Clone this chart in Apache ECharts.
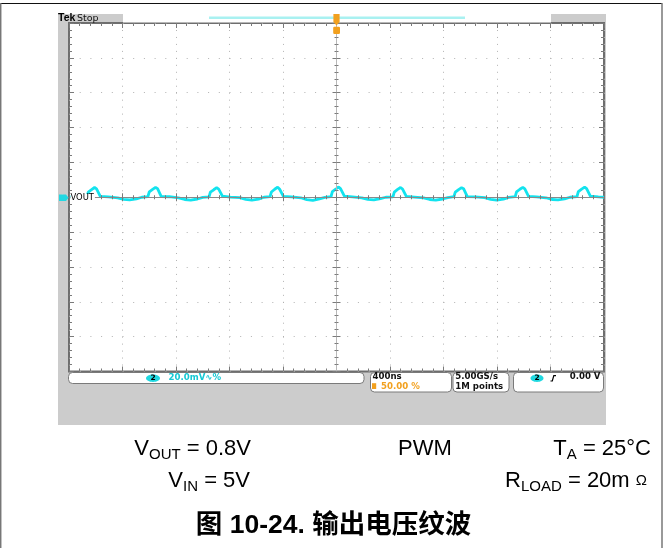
<!DOCTYPE html>
<html><head><meta charset="utf-8">
<script src="https://cdn.jsdelivr.net/npm/echarts@6.0.0/dist/echarts.min.js"></script>
<style>html,body{margin:0;padding:0;background:#fff}#c{width:668px;height:548px}</style>
</head><body><div id="c"></div>
<script>
// ---- data (time in ns, voltage in mV, AC ripple of VOUT) ----
const timeNs = [-2000, -1940, -1900,
  -1866, -1856, -1831, -1809, -1794, -1766, -1706, -1636, -1591, -1546, -1496, -1456,
  -1410, -1400, -1375, -1353, -1338, -1310, -1250, -1180, -1135, -1090, -1040, -1000,
  -953, -943, -918, -896, -881, -853, -793, -723, -678, -633, -583, -543,
  -497, -487, -462, -440, -425, -397, -337, -267, -222, -177, -127, -87,
  -41, -31, -6, 16, 31, 59, 119, 189, 234, 279, 329, 369,
  422, 432, 457, 479, 494, 522, 582, 652, 697, 742, 792, 832,
  878, 888, 913, 935, 950, 978, 1038, 1108, 1153, 1198, 1248, 1288,
  1336, 1346, 1371, 1393, 1408, 1436, 1496, 1566, 1611, 1656, 1706, 1746,
  1798, 1808, 1833, 1855, 1870, 1898, 1958, 2000];
const voutMv = [0.2, 0.0, 0.3,
  0.3, 3.0, 4.4, 5.6, 4.8, 0.5, 0.2, -0.3, -1.2, -1.5, -0.9, 0.0,
  0.3, 3.1, 4.5, 5.7, 4.9, 0.4, 0.3, -0.4, -1.3, -1.6, -1.0, -0.1,
  0.2, 2.9, 4.3, 5.5, 4.7, 0.6, 0.1, -0.2, -1.2, -1.7, -1.1, 0.0,
  0.3, 3.0, 4.6, 5.8, 4.6, 0.5, 0.2, -0.3, -1.4, -1.8, -0.9, -0.1,
  0.3, 3.2, 4.6, 5.9, 4.8, 0.6, 0.2, -0.3, -1.2, -1.5, -0.8, 0.0,
  0.2, 3.0, 4.5, 5.6, 4.7, 0.5, 0.1, -0.4, -1.3, -1.6, -1.0, -0.2,
  0.3, 2.9, 4.4, 5.5, 4.9, 0.4, 0.2, -0.2, -1.2, -1.7, -1.1, -0.1,
  0.3, 3.1, 4.6, 5.7, 4.8, 0.5, 0.2, -0.3, -1.3, -1.5, -0.9, 0.0,
  0.3, 3.2, 4.7, 5.8, 4.9, 0.6, 0.2, 0.0];

// ---- axis ranges (10 divisions each) ----
const xRange = [-2000, 2000];   // ns, 400 ns/div
const xDiv = 400;
const yRange = [-100, 100];     // mV, 20 mV/div
const yDiv = 20;

// ---- scope readouts / text ----
const readVertical = '20.0mV\u223F%';
const readHoriz = ['400ns', '50.00 %'];
const readAcq = ['5.00GS/s', '1M points'];
const readTrig = '0.00 V';
const channelLabel = 'VOUT';
const condLeft = ['V', 'OUT', ' = 0.8V'];
const condLeft2 = ['V', 'IN', ' = 5V'];
const condMid = 'PWM';
const condRight = ['T', 'A', ' = 25\u00B0C'];
const condRight2 = ['R', 'LOAD', ' = 20m ', '\u03A9'];
const caption = '\u56FE 10-24. \u8F93\u51FA\u7535\u538B\u7EB9\u6CE2';

const pts = timeNs.map((t, i) => [t, voutMv[i]]);

const chart = echarts.init(document.getElementById('c'), null, {renderer: 'canvas'});

const GL = 69, GT = 23, GW = 535, GH = 348.5;
const tickCol = '#7a7a7a';

function edgeX(pos, split) {
  return {type: 'value', gridIndex: 0, position: pos, min: xRange[0], max: xRange[1], interval: xDiv,
    axisLine: {show: false, onZero: false},
    axisTick: {show: true, inside: true, length: 5, lineStyle: {color: tickCol}},
    minorTick: {show: true, splitNumber: 5, length: 3, lineStyle: {color: tickCol}},
    axisLabel: {show: false},
    splitLine: {show: split, lineStyle: {color: '#b2b2b2', width: 1, type: [1, 5.97]}}};
}
function edgeY(pos, split) {
  return {type: 'value', gridIndex: 0, position: pos, min: yRange[0], max: yRange[1], interval: yDiv,
    axisLine: {show: false, onZero: false},
    axisTick: {show: true, inside: true, length: 5, lineStyle: {color: tickCol}},
    minorTick: {show: true, splitNumber: 5, length: 3, lineStyle: {color: tickCol}},
    axisLabel: {show: false},
    splitLine: {show: split, lineStyle: {color: '#b2b2b2', width: 1, type: [1, 9.7]}}};
}
function centerX(pos, line) {
  return {type: 'value', gridIndex: 1, position: pos, min: xRange[0], max: xRange[1], interval: xDiv, z: 5,
    axisLine: {show: line, onZero: true, lineStyle: {color: '#8a8a8a', width: 1}},
    axisTick: {show: true, inside: true, length: 4, lineStyle: {color: tickCol}},
    minorTick: {show: true, splitNumber: 5, length: 2, lineStyle: {color: tickCol}},
    axisLabel: {show: false}, splitLine: {show: false}};
}
function centerY(pos, line) {
  return {type: 'value', gridIndex: 1, position: pos, min: yRange[0], max: yRange[1], interval: yDiv, z: 5,
    axisLine: {show: line, onZero: true, lineStyle: {color: '#b8b8b8', width: 1}},
    axisTick: {show: true, inside: true, length: 4, lineStyle: {color: tickCol}},
    minorTick: {show: true, splitNumber: 5, length: 2, lineStyle: {color: tickCol}},
    axisLabel: {show: false}, splitLine: {show: false}};
}

const sans = 'DejaVu Sans';
const arial = 'Liberation Sans, Arial, sans-serif';
const orange = '#f2a01e';
const cyanTxt = '#14c8d4';

function box(x, y, w, h) {
  return {type: 'rect', z: 50, shape: {x: x, y: y, width: w, height: h, r: 4},
    style: {fill: '#fff', stroke: '#7a7a7a', lineWidth: 1}};
}
function txt(x, y, s, opt) {
  return Object.assign({type: 'text', z: 60, x: x, y: y,
    style: Object.assign({text: s, fontFamily: sans, fontSize: 8.6, fill: '#111', align: 'left', verticalAlign: 'middle'}, opt || {})});
}
function subText(x, y, parts, align, omega) {
  let t = '{m|' + parts[0] + '}{s|' + parts[1] + '}{m|' + parts[2] + '}';
  if (omega) t += '{o|' + parts[3] + '}';
  return {type: 'text', z: 60, x: x, y: y, style: {text: t, align: align, verticalAlign: 'middle',
    rich: {m: {fontFamily: arial, fontSize: 22, lineHeight: 30, fill: '#000'},
           s: {fontFamily: arial, fontSize: 15, lineHeight: 18, padding: [12, 0, 0, 0], fill: '#000'},
           o: {fontFamily: arial, fontSize: 15, lineHeight: 30, fill: '#000'}}}};
}

const graphics = [
  // page frame
  {type: 'line', z: 1, shape: {x1: 0, y1: 3.5, x2: 662, y2: 3.5}, style: {stroke: '#111', lineWidth: 1.2}},
  {type: 'line', z: 1, shape: {x1: 0.7, y1: 3, x2: 0.7, y2: 548}, style: {stroke: '#777', lineWidth: 1.5}},
  {type: 'line', z: 1, shape: {x1: 662, y1: 3, x2: 662, y2: 548}, style: {stroke: '#777', lineWidth: 1.5}},
  // scope panel
  {type: 'rect', z: -10, shape: {x: 58, y: 14, width: 548, height: 411}, style: {fill: '#cccccc'}},
  {type: 'rect', z: 1, shape: {x: 123, y: 14, width: 428, height: 8.5}, style: {fill: '#ffffff'}},
  {type: 'rect', z: 2, shape: {x: 209, y: 16.5, width: 256, height: 2.4}, style: {fill: '#a9f1f1'}},
  txt(58, 18.3, 'Tek', {fontFamily: 'Liberation Sans', fontWeight: 'bold', fontSize: 10.5, fill: '#000'}),
  txt(77, 18.3, 'Stop', {fontSize: 9.5, fill: '#111'}),
  // trigger markers
  {type: 'polygon', z: 70, shape: {points: [[333.4, 14], [339.6, 14], [339.6, 22], [336.5, 25.5], [333.4, 22]]}, style: {fill: orange}},
  txt(336.5, 18.5, 'T', {fontSize: 7, fontWeight: 'bold', fill: '#fff', align: 'center'}),
  {type: 'rect', z: 70, shape: {x: 333.2, y: 26.8, width: 6.8, height: 7.2, r: 1.2}, style: {fill: orange}},
  txt(336.6, 30.6, 'T', {fontSize: 7, fontWeight: 'bold', fill: '#fff', align: 'center'}),
  // channel ground marker + label
  {type: 'polygon', z: 70, shape: {points: [[59, 194.5], [66, 194.5], [68.5, 197.8], [66, 201], [59, 201]]}, style: {fill: '#22d8e2'}},
  txt(62.5, 198, '2', {fontSize: 7, fontWeight: 'bold', fill: '#fff', align: 'center'}),
  txt(70.5, 198, channelLabel, {fontSize: 8.4, fill: '#000', backgroundColor: '#fff', padding: [0, 1, 0, 0]}),
  // readout boxes
  box(68.5, 372.5, 295.5, 11),
  box(370.5, 372.5, 81, 19.5),
  box(453, 372.5, 56, 19.5),
  box(513.5, 372.5, 90, 19.5),
  {type: 'ellipse', z: 60, shape: {cx: 153, cy: 378.2, rx: 7, ry: 3.7}, style: {fill: '#1fd8e0'}},
  txt(153, 378.4, '2', {fontSize: 7.5, fontWeight: 'bold', fill: '#000', align: 'center'}),
  txt(168.5, 378.2, readVertical, {fill: cyanTxt, fontWeight: 'bold'}),
  txt(372.5, 377, readHoriz[0], {fontWeight: 'bold'}),
  {type: 'rect', z: 60, shape: {x: 372, y: 383.2, width: 4.2, height: 5.8}, style: {fill: orange}},
  txt(381, 386.8, readHoriz[1], {fill: orange, fontWeight: 'bold'}),
  txt(455.3, 377, readAcq[0], {fontWeight: 'bold'}),
  txt(455.3, 386.8, readAcq[1], {fontWeight: 'bold'}),
  {type: 'ellipse', z: 60, shape: {cx: 537, cy: 378.2, rx: 6.5, ry: 3.7}, style: {fill: '#1fd8e0'}},
  txt(537, 378.4, '2', {fontSize: 7.5, fontWeight: 'bold', fill: '#000', align: 'center'}),
  {type: 'polyline', z: 60, shape: {points: [[550.5, 381], [552.3, 381], [553.8, 375.6], [556, 375.6]]}, style: {stroke: '#000', lineWidth: 1.2, fill: null}},
  txt(600.5, 377, readTrig, {align: 'right', fontWeight: 'bold'}),
  // conditions
  subText(251, 449, condLeft, 'right'),
  subText(250, 481, condLeft2, 'right'),
  txt(425, 449, condMid, {fontFamily: arial, fontSize: 22, fill: '#000', align: 'center'}),
  subText(651, 449, condRight, 'right'),
  subText(647, 481, condRight2, 'right', true),
  txt(333.5, 525.5, caption, {fontFamily: 'Liberation Sans, Noto Sans CJK SC, sans-serif', fontWeight: 'bold', fontSize: 26.5, fill: '#000', align: 'center'})
];

const option = {
  animation: false,
  backgroundColor: '#fff',
  grid: [
    {left: GL, top: GT, width: GW, height: GH, show: true, backgroundColor: '#ffffff', borderColor: '#6e6e6e', borderWidth: 2},
    {left: GL, top: GT, width: GW, height: GH, show: false}
  ],
  xAxis: [edgeX('bottom', true), edgeX('top', false), centerX('bottom', true), centerX('top', false)],
  yAxis: [edgeY('left', true), edgeY('right', false), centerY('left', true), centerY('right', false)],
  series: [{
    type: 'line', xAxisIndex: 0, yAxisIndex: 0, data: pts, symbol: 'none', z: 2,
    lineStyle: {color: '#12e3ee', width: 2.8}
  }],
  graphic: {elements: graphics}
};
chart.setOption(option);
</script></body></html>
